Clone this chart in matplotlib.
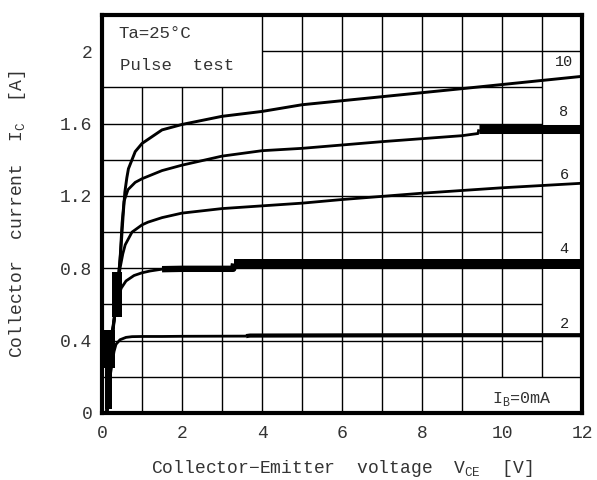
import numpy as np
import matplotlib
matplotlib.use("Agg")
import matplotlib.pyplot as plt

plt.rcParams['font.family'] = ['Liberation Mono', 'DejaVu Sans']
plt.rcParams['mathtext.fontset'] = 'custom'
plt.rcParams['mathtext.rm'] = 'Liberation Mono'

# collector curves (VCE [V], IC [A])
v_ib2 = [0.12, 0.2, 0.3, 0.35, 0.45, 0.6, 0.75, 1.0, 1.5, 2, 3.6, 3.7, 6, 9, 12]
i_ib2 = [0.0, 0.2, 0.34, 0.38, 0.405, 0.418, 0.422, 0.423, 0.423, 0.424, 0.425, 0.428, 0.429, 0.43, 0.43]

v_ib4 = [0.12, 0.25, 0.38, 0.48, 0.6, 0.8, 1.0, 1.2, 1.5, 2, 3.28, 3.3, 6, 9, 12]
i_ib4 = [0.0, 0.45, 0.62, 0.69, 0.73, 0.76, 0.775, 0.785, 0.795, 0.797, 0.797, 0.826, 0.826, 0.826, 0.826]

v_ib6 = [0.12, 0.2, 0.35, 0.45, 0.52, 0.58, 0.75, 1.0, 1.15, 1.5, 2, 3, 4, 5, 6, 8, 10, 12]
i_ib6 = [0.0, 0.3, 0.6, 0.8, 0.88, 0.93, 1.0, 1.04, 1.055, 1.08, 1.105, 1.13, 1.145, 1.16, 1.18, 1.215, 1.245, 1.27]

v_ib8 = [0.12, 0.22, 0.38, 0.45, 0.5, 0.55, 0.65, 0.83, 1.0, 1.5, 2, 2.6, 3, 4, 5, 7, 9, 9.4, 9.42, 12]
i_ib8 = [0.0, 0.35, 0.68, 0.85, 1.05, 1.17, 1.235, 1.275, 1.295, 1.34, 1.37, 1.4, 1.42, 1.45, 1.463, 1.5, 1.533, 1.545, 1.568, 1.568]

v_ib10 = [0.12, 0.22, 0.4, 0.47, 0.53, 0.57, 0.62, 0.66, 0.83, 1.0, 1.5, 2, 3, 4, 5, 9, 12]
i_ib10 = [0.0, 0.35, 0.72, 0.9, 1.1, 1.22, 1.3, 1.35, 1.445, 1.49, 1.565, 1.595, 1.64, 1.667, 1.704, 1.793, 1.861]

curve_names = ['2', '4', '6', '8', '10']
curve_label_i = [0.49, 0.905, 1.315, 1.665, 1.94]

# dark smudges of the scan near the origin
blob_v0 = [0.07, 0.02, 0.25]
blob_v1 = [0.26, 0.32, 0.5]
blob_i0 = [0.02, 0.25, 0.53]
blob_i1 = [0.26, 0.46, 0.78]

curves = {
    '2': (v_ib2, i_ib2),
    '4': (v_ib4, i_ib4),
    '6': (v_ib6, i_ib6),
    '8': (v_ib8, i_ib8),
    '10': (v_ib10, i_ib10),
}

# line width along each curve (the scan has thick stretches)
widths = {
    '2': [(0, 3.6, 2.0), (3.6, 12, 3.0)],
    '4': [(0, 1.5, 2.0), (1.5, 3.3, 4.6), (3.3, 12, 7.2)],
    '6': [(0, 12, 2.0)],
    '8': [(0, 9.42, 2.0), (9.42, 12, 6.5)],
    '10': [(0, 12, 2.1)],
}

fig = plt.figure(figsize=(5.97, 4.80), dpi=100)
ax = fig.add_axes([0.1709, 0.1396, 0.8040, 0.8291])
ax.set_xlim(0, 12)
ax.set_ylim(0, 2.2)

# grid, with the blank text boxes left open
for v in np.arange(1, 12):
    lo = 0.2 if v >= 10 else 0
    hi = 1.8 if v < 4 else 2.2
    ax.vlines(v, lo, hi, color='black', lw=1.0, zorder=1)
for y in np.arange(0.2, 2.01, 0.2):
    if abs(y - 2.0) < 1e-6:
        ax.hlines(y, 4, 12, color='black', lw=1.0, zorder=1)
    elif abs(y - 0.2) < 1e-6:
        ax.hlines(y, 0, 12, color='black', lw=1.0, zorder=1)
    else:
        ax.hlines(y, 0, 11, color='black', lw=1.0, zorder=1)

for name in curve_names:
    v, i = curves[name]
    v = np.array(v)
    i = np.array(i)
    for lo, hi, lw in widths[name]:
        m = (v >= lo) & (v <= hi)
        ax.plot(v[m], i[m], color='black', lw=lw, solid_capstyle='butt',
                solid_joinstyle='round', zorder=3)

ax.bar(blob_v0, np.array(blob_i1) - np.array(blob_i0),
       width=np.array(blob_v1) - np.array(blob_v0), bottom=blob_i0,
       align='edge', color='black', zorder=3)

for name, yl in zip(curve_names, curve_label_i):
    ax.text(11.55, yl, name, ha='center', va='center', fontsize=11, color='#222')

ax.text(0.4, 2.1, 'Ta=25°C', ha='left', va='center', fontsize=12.5, color='#333')
ax.text(0.45, 1.92, 'Pulse  test', ha='left', va='center', fontsize=12.5, color='#333')
ax.text(10.5, 0.075, r'I$_{\rm B}$=0mA', ha='center', va='center', fontsize=12, color='#333')

ax.set_xticks([0, 2, 4, 6, 8, 10, 12])
ax.set_xticklabels(['0', '2', '4', '6', '8', '10', '12'])
ax.set_yticks([0, 0.4, 0.8, 1.2, 1.6, 2.0])
ax.set_yticklabels(['0', '0.4', '0.8', '1.2', '1.6', '2'])
ax.tick_params(axis='both', length=0, labelsize=13, labelcolor='#333')
ax.tick_params(axis='x', pad=9)
ax.tick_params(axis='y', pad=7)

for s in ax.spines.values():
    s.set_linewidth(3.0)
    s.set_zorder(5)

ax.set_xlabel(r'Collector$-$Emitter  voltage  V$_{\rm CE}$  [V]', fontsize=13, color='#333')
ax.xaxis.set_label_coords(0.5, -0.113)
ax.set_ylabel(r'Collector  current  I$_{\rm C}$  [A]', fontsize=13, color='#333')
ax.yaxis.set_label_coords(-0.154, 0.5)

fig.savefig('out.png', dpi=100)
